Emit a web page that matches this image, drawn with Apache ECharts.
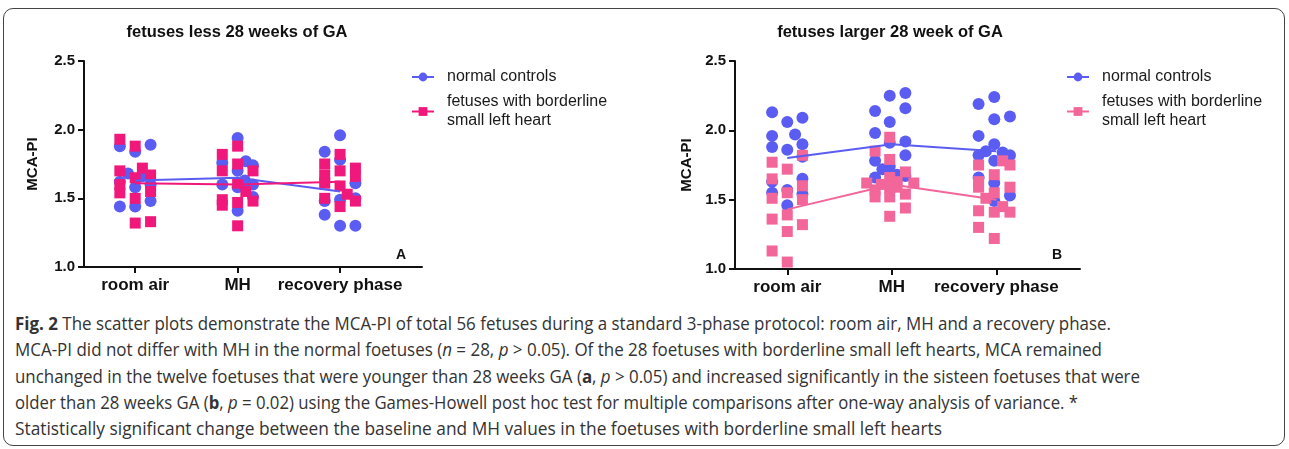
<!DOCTYPE html>
<html><head><meta charset="utf-8">
<script src="https://cdn.jsdelivr.net/npm/echarts@6/dist/echarts.min.js"></script>
<style>
html,body{margin:0;padding:0;background:#fff;width:1289px;height:449px;overflow:hidden;}
#frame{position:absolute;left:3px;top:8px;width:1280px;height:436px;border:1.5px solid #444;border-radius:10px;}
#chartA{position:absolute;left:0;top:0;width:645px;height:300px;}
#chartB{position:absolute;left:645px;top:0;width:644px;height:300px;}
#caption{position:absolute;left:15px;top:310px;font-family:"Open Sans","Noto Sans",sans-serif;font-size:18px;line-height:26.3px;color:#333;white-space:nowrap;}
#caption .ln{display:block;height:26.3px;}
#caption .ln span.inner{display:inline-block;transform-origin:0 50%;}
</style></head>
<body>
<div id="frame"></div>
<div id="chartA"></div>
<div id="chartB"></div>
<div id="caption">
<div class="ln" data-w="1096"><span class="inner"><b>Fig. 2</b> The scatter plots demonstrate the MCA-PI of total 56 fetuses during a standard 3-phase protocol: room air, MH and a recovery phase.</span></div>
<div class="ln" data-w="1087"><span class="inner">MCA-PI did not differ with MH in the normal foetuses (<i>n</i> = 28, <i>p</i> &gt; 0.05). Of the 28 foetuses with borderline small left hearts, MCA remained</span></div>
<div class="ln" data-w="1125"><span class="inner">unchanged in the twelve foetuses that were younger than 28 weeks GA (<b>a</b>, <i>p</i> &gt; 0.05) and increased significantly in the sisteen foetuses that were</span></div>
<div class="ln" data-w="1063"><span class="inner">older than 28 weeks GA (<b>b</b>, <i>p</i> = 0.02) using the Games-Howell post hoc test for multiple comparisons after one-way analysis of variance. *</span></div>
<div class="ln" data-w="927"><span class="inner">Statistically significant change between the baseline and MH values in the foetuses with borderline small left hearts</span></div>
</div>
<script>
// ---------- data ----------
const categories = ['room air', 'MH', 'recovery phase'];
const seriesNames = ['normal controls', 'fetuses with borderline\nsmall left heart'];
const yTickLabels = ['1.0', '1.5', '2.0', '2.5'];

// Panel A: fetuses less 28 weeks of GA
const A_normal_values = [
  [1.88, 1.62, 1.44, 1.68, 1.84, 1.58, 1.44, 1.89, 1.48, 1.60, 1.66],
  [1.94, 1.76, 1.60, 1.70, 1.58, 1.41, 1.77, 1.74, 1.60, 1.51, 1.63],
  [1.84, 1.48, 1.38, 1.96, 1.78, 1.49, 1.30, 1.61, 1.30, 1.50]
];
const A_normal_jitter = [
  [-0.15, -0.15, -0.15, -0.07, 0, 0, 0, 0.15, 0.15, 0.15, 0.07],
  [0, -0.15, -0.15, 0, 0, 0, 0.08, 0.15, 0.15, 0.15, 0.07],
  [-0.15, -0.15, -0.15, 0, 0, 0, 0, 0.15, 0.15, 0.15]
];
const A_border_values = [
  [1.93, 1.70, 1.60, 1.54, 1.88, 1.65, 1.50, 1.32, 1.72, 1.67, 1.55, 1.33],
  [1.82, 1.70, 1.49, 1.45, 1.88, 1.75, 1.61, 1.47, 1.30, 1.55, 1.70, 1.48],
  [1.75, 1.67, 1.61, 1.50, 1.82, 1.70, 1.59, 1.44, 1.53, 1.72, 1.66, 1.48]
];
const A_border_jitter = [
  [-0.15, -0.15, -0.15, -0.15, 0, 0, 0, 0, 0.07, 0.15, 0.15, 0.15],
  [-0.15, -0.15, -0.15, -0.15, 0, 0, 0, 0, 0, 0.08, 0.15, 0.15],
  [-0.15, -0.15, -0.15, -0.15, 0, 0, 0, 0, 0.07, 0.15, 0.15, 0.15]
];
const A_normal_means = [1.63, 1.65, 1.55];
const A_border_means = [1.61, 1.60, 1.62];

// Panel B: fetuses larger 28 week of GA
const B_normal_values = [
  [2.13, 1.96, 1.88, 1.63, 1.55, 2.06, 1.86, 1.57, 1.46, 1.97, 2.09, 1.90, 1.81, 1.65, 1.54],
  [2.14, 1.98, 1.78, 1.66, 1.72, 2.25, 2.06, 1.91, 1.74, 1.68, 2.27, 2.16, 1.92, 1.82, 1.67],
  [2.19, 1.96, 1.82, 1.66, 1.85, 2.24, 2.08, 1.90, 1.78, 1.62, 1.49, 1.84, 2.10, 1.82, 1.53]
];
const B_normal_jitter = [
  [-0.145, -0.145, -0.145, -0.145, -0.145, 0, 0, 0, 0, 0.075, 0.145, 0.145, 0.145, 0.145, 0.145],
  [-0.16, -0.16, -0.16, -0.16, -0.09, -0.02, -0.02, -0.02, -0.02, 0.05, 0.13, 0.13, 0.13, 0.13, 0.13],
  [-0.17, -0.17, -0.17, -0.17, -0.1, -0.02, -0.02, -0.02, -0.02, -0.02, -0.02, 0.06, 0.13, 0.13, 0.13]
];
const B_border_values = [
  [1.77, 1.65, 1.51, 1.36, 1.13, 1.72, 1.55, 1.39, 1.27, 1.05, 1.82, 1.60, 1.50, 1.32],
  [1.62, 1.85, 1.57, 1.52, 1.61, 1.95, 1.79, 1.66, 1.59, 1.52, 1.38, 1.63, 1.59, 1.70, 1.54, 1.44, 1.62],
  [1.75, 1.63, 1.59, 1.42, 1.30, 1.51, 1.68, 1.55, 1.41, 1.22, 1.78, 1.45, 1.75, 1.59, 1.41]
];
const B_border_jitter = [
  [-0.145, -0.145, -0.145, -0.145, -0.145, 0, 0, 0, 0, 0, 0.145, 0.145, 0.145, 0.145],
  [-0.24, -0.16, -0.16, -0.16, -0.1, -0.02, -0.02, -0.02, -0.02, -0.02, -0.02, 0.05, 0.05, 0.13, 0.13, 0.13, 0.21],
  [-0.17, -0.17, -0.17, -0.17, -0.17, -0.1, -0.02, -0.02, -0.02, -0.02, 0.06, 0.06, 0.13, 0.13, 0.13]
];
const B_normal_means = [1.80, 1.90, 1.85];
const B_border_means = [1.43, 1.61, 1.50];

// ---------- build ----------
const FONT = '"Liberation Sans", Arial, sans-serif';
function pts(values, jitter) {
  const out = [];
  values.forEach((arr, p) => arr.forEach((v, i) => out.push([p + jitter[p][i], v])));
  return out;
}
function buildOption(c) {
  return {
    animation: false,
    grid: { left: c.gridLeft, top: 61, width: c.gridWidth, height: c.gridHeight },
    xAxis: {
      type: 'value', min: -0.5, max: 2.8,
      axisLine: { show: true, onZero: false, lineStyle: { color: '#111', width: 2 } },
      axisTick: { show: true, customValues: [0, 1, 2], length: 6, lineStyle: { color: '#111', width: 2 } },
      axisLabel: { customValues: [0, 1, 2], margin: 10, formatter: v => categories[Math.round(v)],
        fontFamily: FONT, fontWeight: 'bold', fontSize: 17, color: '#111' },
      splitLine: { show: false }
    },
    yAxis: {
      type: 'value', min: 1.0, max: 2.5, interval: 0.5,
      name: 'MCA-PI', nameLocation: 'middle', nameGap: c.nameGap,
      nameTextStyle: { fontFamily: FONT, fontWeight: 'bold', fontSize: 15, color: '#111' },
      axisLine: { show: true, onZero: false, lineStyle: { color: '#111', width: 2 } },
      axisTick: { show: true, length: 6, lineStyle: { color: '#111', width: 2 } },
      axisLabel: { margin: 9, formatter: v => yTickLabels[Math.round((v - 1) / 0.5)],
        fontFamily: FONT, fontWeight: 'bold', fontSize: 15, color: '#111' },
      splitLine: { show: false }
    },
    legend: {
      data: seriesNames, orient: 'vertical', left: c.legendLeft, top: 67.5, padding: 0,
      itemWidth: 22, itemHeight: 11, itemGap: 6,
      textStyle: { fontFamily: FONT, fontSize: 16, color: '#1a1a1a', lineHeight: 19, padding: [0, 0, 0, 8] }
    },
    graphic: [
      { type: 'text', x: c.titleX, y: 32, silent: true,
        style: { text: c.title, align: 'center', verticalAlign: 'middle', font: 'bold 16.5px ' + FONT, fill: '#111' } },
      { type: 'text', x: c.letterX, y: 255, silent: true,
        style: { text: c.letter, align: 'center', verticalAlign: 'middle', font: 'bold 14px ' + FONT, fill: '#111' } }
    ],
    series: [
      { name: seriesNames[0], type: 'line', data: c.nMeans.map((v, i) => [i, v]), symbol: 'circle', showSymbol: false,
        lineStyle: { color: c.blue, width: 2 }, itemStyle: { color: c.blue }, z: 5, silent: true },
      { name: seriesNames[1], type: 'line', data: c.bMeans.map((v, i) => [i, v]), symbol: 'rect', showSymbol: false,
        lineStyle: { color: c.pink, width: 2 }, itemStyle: { color: c.pink }, z: 5, silent: true },
      { name: seriesNames[0], type: 'scatter', symbol: 'circle', symbolSize: 12, data: pts(c.nVals, c.nJit),
        itemStyle: { color: c.blue, opacity: 1 }, z: 2 },
      { name: seriesNames[1], type: 'scatter', symbol: 'rect', symbolSize: 11, data: pts(c.bVals, c.bJit),
        itemStyle: { color: c.pink, opacity: 1 }, z: 3 }
    ]
  };
}
const chartA = echarts.init(document.getElementById('chartA'), null, { renderer: 'canvas' });
chartA.setOption(buildOption({
  gridLeft: 84, gridWidth: 338, gridHeight: 206, legendLeft: 411, titleX: 237, letterX: 401, nameGap: 44,
  title: 'fetuses less 28 weeks of GA', letter: 'A',
  blue: '#5b5cf2', pink: '#f0197b',
  nVals: A_normal_values, nJit: A_normal_jitter, bVals: A_border_values, bJit: A_border_jitter,
  nMeans: A_normal_means, bMeans: A_border_means
}));
const chartB = echarts.init(document.getElementById('chartB'), null, { renderer: 'canvas' });
chartB.setOption(buildOption({
  gridLeft: 90, gridWidth: 345, gridHeight: 208, legendLeft: 421, titleX: 245, letterX: 412, nameGap: 40,
  title: 'fetuses larger 28 week of GA', letter: 'B',
  blue: '#5b5cf2', pink: '#f2669a',
  nVals: B_normal_values, nJit: B_normal_jitter, bVals: B_border_values, bJit: B_border_jitter,
  nMeans: B_normal_means, bMeans: B_border_means
}));

// fit caption lines to the reference line widths
document.querySelectorAll('#caption .ln').forEach(el => {
  const s = el.firstElementChild;
  const w = s.getBoundingClientRect().width;
  const t = +el.dataset.w;
  if (w > 0) s.style.transform = 'scaleX(' + (t / w) + ')';
});
</script>
</body></html>
